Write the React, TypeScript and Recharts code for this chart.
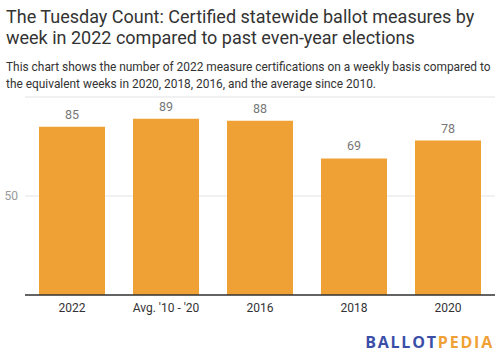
import { Bar, BarChart, CartesianGrid, LabelList, XAxis, YAxis } from 'recharts';

const categories = ['2022', "Avg. '10 - '20", '2016', '2018', '2020'];
const measures = [85, 89, 88, 69, 78];
const yTicks = [50];

const data = categories.map((label, i) => ({ label, value: measures[i] }));

const font = 'Roboto, "Noto Sans", sans-serif';

const App = () => {
    return (
        <div style={{ position: 'absolute', left: 0, top: 0, width: 500, height: 360, background: '#fff', fontFamily: font }}>
            <div style={{ position: 'absolute', left: 6, top: 6, whiteSpace: 'nowrap', fontSize: 18, lineHeight: '21px', color: '#333' }}>
                The Tuesday Count: Certified statewide ballot measures by
                <br />
                week in 2022 compared to past even-year elections
            </div>
            <div style={{ position: 'absolute', left: 6, top: 59, whiteSpace: 'nowrap', fontSize: 11.9, lineHeight: '16.5px', color: '#333' }}>
                This chart shows the number of 2022 measure certifications on a weekly basis compared to
                <br />
                the equivalent weeks in 2020, 2018, 2016, and the average since 2010.
            </div>
            <div style={{ position: 'absolute', left: 0, top: 0 }}>
                <BarChart
                    width={500}
                    height={360}
                    data={data}
                    margin={{ top: 97, right: 5, bottom: 45, left: 0 }}
                    barCategoryGap={14}
                >
                    <CartesianGrid vertical={false} stroke="#e3e3e3" />
                    <YAxis
                        width={25}
                        domain={[0, 100]}
                        ticks={yTicks}
                        axisLine={false}
                        tickLine={false}
                        tickSize={0}
                        tickMargin={7}
                        tick={{ fill: '#999', fontSize: 12, fontFamily: font }}
                    />
                    <XAxis
                        dataKey="label"
                        height={20}
                        axisLine={{ stroke: '#333', strokeWidth: 1.5 }}
                        tickLine={false}
                        tickSize={0}
                        tickMargin={8}
                        interval={0}
                        tick={{ fill: '#333', fontSize: 12, fontFamily: font }}
                    />
                    <Bar dataKey="value" fill="#f0a136" isAnimationActive={false}>
                        <LabelList dataKey="value" position="top" offset={8} fill="#777" fontSize={12.5} fontFamily={font} />
                    </Bar>
                </BarChart>
            </div>
            <div style={{ position: 'absolute', right: 6, top: 334, whiteSpace: 'nowrap', fontSize: 16, fontWeight: 700, letterSpacing: 1.8, lineHeight: '16px', fontFamily: '"Open Sans", sans-serif' }}>
                <span style={{ color: '#3a4ea8' }}>BALLOT</span>
                <span style={{ color: '#f0a136' }}>PEDIA</span>
            </div>
        </div>
    );
};

export default App;
